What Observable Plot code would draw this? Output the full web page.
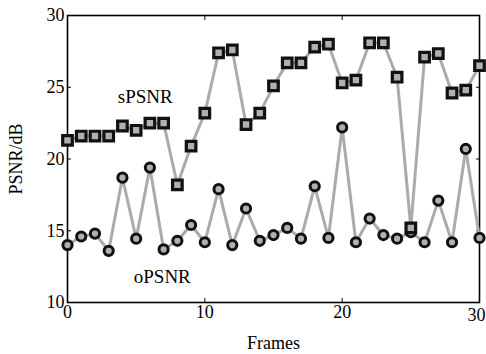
<!DOCTYPE html>
<html>
<head>
<meta charset="utf-8">
<script src="https://cdn.jsdelivr.net/npm/d3@7"></script>
<script src="https://cdn.jsdelivr.net/npm/@observablehq/plot@0.6"></script>
<style>
  html, body { margin: 0; padding: 0; background: #fff; }
  svg { display: block; }
  svg text { font-family: 'Liberation Serif', 'DejaVu Serif', serif !important; font-variant-numeric: normal !important; }
</style>
</head>
<body>
<div id="chart"></div>
<script>
const frames = d3.range(0, 31);
const sPSNR = [21.3, 21.6, 21.6, 21.6, 22.3, 22.0, 22.5, 22.5, 18.2, 20.9, 23.2, 27.4, 27.6, 22.4, 23.2, 25.1, 26.7, 26.7, 27.8, 28.0, 25.3, 25.5, 28.1, 28.1, 25.7, 15.2, 27.1, 27.35, 24.6, 24.8, 26.5];
const oPSNR = [14.0, 14.6, 14.8, 13.6, 18.7, 14.45, 19.4, 13.7, 14.3, 15.4, 14.2, 17.9, 14.0, 16.55, 14.3, 14.7, 15.2, 14.45, 18.1, 14.5, 22.2, 14.2, 15.85, 14.7, 14.45, 14.9, 14.2, 17.1, 14.2, 20.7, 14.5];
const xTicks = [0, 10, 20, 30];
const yTicks = [10, 15, 20, 25, 30];
const seriesLabels = [
  {name: "sPSNR", x: 5.66, y: 24.35},
  {name: "oPSNR", x: 6.9, y: 11.8}
];

const sData = frames.map((f, i) => ({f, v: sPSNR[i]}));
const oData = frames.map((f, i) => ({f, v: oPSNR[i]}));

const font = "'Liberation Serif', 'DejaVu Serif', serif";
const lineColor = "#ababab";
const lastX = xTicks[xTicks.length - 1];

const chart = Plot.plot({
  width: 486,
  height: 354,
  marginLeft: 67,
  marginRight: 7,
  marginTop: 15,
  marginBottom: 52,
  style: {fontFamily: font, fontSize: "18px", color: "#000", background: "#fff"},
  x: {domain: [0, 30]},
  y: {domain: [10, 30]},
  marks: [
    Plot.frame({stroke: "#000", strokeWidth: 1.6}),
    Plot.axisX({ticks: xTicks.slice(0, -1), tickSize: -4, tickPadding: 7, fontSize: 18, fontFamily: font, label: "Frames", labelAnchor: "center", labelArrow: "none", labelOffset: 46}),
    Plot.axisX({ticks: [lastX], tickSize: 0, tickPadding: 6, dx: -3, fontSize: 18, fontFamily: font, label: null}),
    Plot.axisX({anchor: "top", ticks: xTicks, tickSize: -4, tickFormat: () => "", label: null}),
    Plot.axisY({ticks: yTicks, tickSize: -4, tickPadding: 7, fontSize: 18, fontFamily: font, label: "PSNR/dB", labelAnchor: "center", labelArrow: "none", labelOffset: 58}),
    Plot.axisY({anchor: "right", ticks: yTicks, tickSize: -4, tickFormat: () => "", label: null}),
    Plot.line(oData, {x: "f", y: "v", stroke: lineColor, strokeWidth: 3}),
    Plot.line(sData, {x: "f", y: "v", stroke: lineColor, strokeWidth: 3}),
    Plot.dot(oData, {x: "f", y: "v", symbol: "circle", r: 4.6, fill: "#b0b0b0", stroke: "#111", strokeWidth: 3}),
    Plot.dot(sData, {x: "f", y: "v", symbol: "square", r: 5.4, fill: "#b0b0b0", stroke: "#111", strokeWidth: 3.2}),
    Plot.text(seriesLabels, {x: "x", y: "y", text: "name", fontSize: 19, fontFamily: font, fill: "#000", textAnchor: "middle"})
  ]
});
document.getElementById("chart").appendChild(chart);
</script>
</body>
</html>
